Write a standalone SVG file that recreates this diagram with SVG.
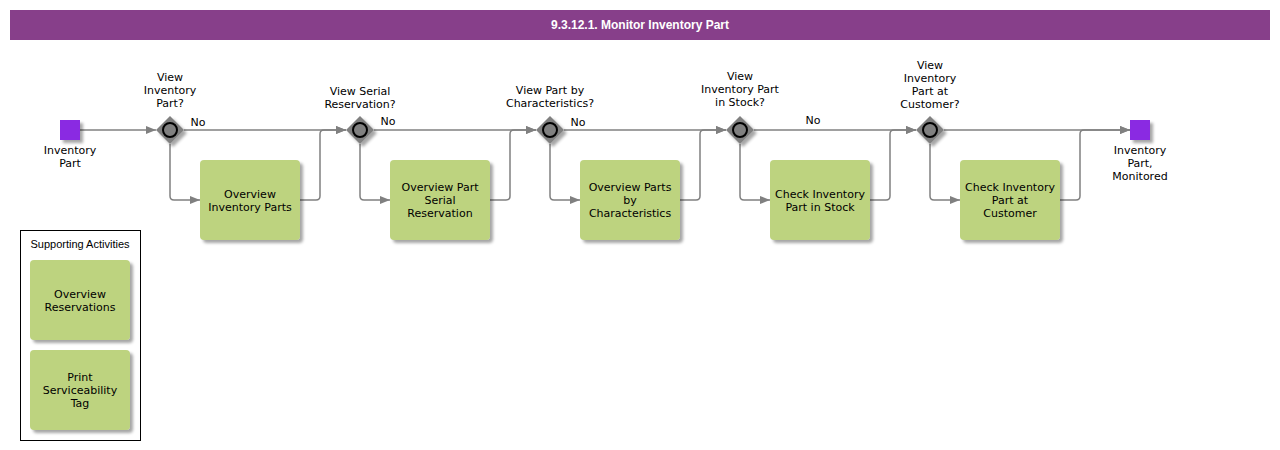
<svg xmlns="http://www.w3.org/2000/svg" width="1280" height="450" viewBox="0 0 1280 450">
<style>
.t{font-family:"DejaVu Sans",Verdana,sans-serif;font-size:11px;fill:#000;text-anchor:middle}
.task{fill:#BDD37F}
.gw{fill:#808080}
.ev{fill:#8A2BE2}
.c{fill:none;stroke:#808080;stroke-width:1.5}
</style>
<defs>
<filter id="sh" x="-20%" y="-20%" width="150%" height="150%">
<feDropShadow dx="3" dy="3" stdDeviation="1.5" flood-color="#000" flood-opacity="0.35"/>
</filter>
<marker id="ar" markerWidth="10" markerHeight="8" refX="10" refY="4" orient="auto" markerUnits="userSpaceOnUse">
<path d="M0,0 L10,4 L0,8 z" fill="#808080"/>
</marker>
<g id="gwshape">
<polygon points="0,-14 14,0 0,14 -14,0" class="gw" filter="url(#sh)"/>
<circle r="7" fill="#808080" stroke="#000" stroke-width="2"/>
</g>
</defs>
<rect width="1280" height="450" fill="#fff"/>
<g id="title">
<rect x="10" y="10" width="1260" height="30" fill="#873F8A"/>
<text x="640" y="29" style="font-family:'Liberation Sans',Arial,sans-serif;font-size:12px;font-weight:bold;fill:#fff;text-anchor:middle">9.3.12.1. Monitor Inventory Part</text>
</g>
<g id="connectors">
<path class="c" d="M80,130 H156" marker-end="url(#ar)"/>
<path class="c" d="M184,130 H346" marker-end="url(#ar)"/>
<path class="c" d="M170,144 V196 Q170,200 174,200 H200" marker-end="url(#ar)"/>
<path class="c" d="M300,200 H316 Q320,200 320,196 V134 Q320,130 324,130 H346" marker-end="url(#ar)"/>
<path class="c" d="M374,130 H536" marker-end="url(#ar)"/>
<path class="c" d="M360,144 V196 Q360,200 364,200 H390" marker-end="url(#ar)"/>
<path class="c" d="M490,200 H506 Q510,200 510,196 V134 Q510,130 514,130 H536" marker-end="url(#ar)"/>
<path class="c" d="M564,130 H726" marker-end="url(#ar)"/>
<path class="c" d="M550,144 V196 Q550,200 554,200 H580" marker-end="url(#ar)"/>
<path class="c" d="M680,200 H696 Q700,200 700,196 V134 Q700,130 704,130 H726" marker-end="url(#ar)"/>
<path class="c" d="M754,130 H916" marker-end="url(#ar)"/>
<path class="c" d="M740,144 V196 Q740,200 744,200 H770" marker-end="url(#ar)"/>
<path class="c" d="M870,200 H886 Q890,200 890,196 V134 Q890,130 894,130 H916" marker-end="url(#ar)"/>
<path class="c" d="M944,130 H1130" marker-end="url(#ar)"/>
<path class="c" d="M930,144 V196 Q930,200 934,200 H960" marker-end="url(#ar)"/>
<path class="c" d="M1060,200 H1076 Q1080,200 1080,196 V134 Q1080,130 1084,130 H1130" marker-end="url(#ar)"/>
<text class="t" x="198" y="126">No</text>
<text class="t" x="388" y="125">No</text>
<text class="t" x="578" y="126">No</text>
<text class="t" x="813" y="124">No</text>
</g>
<g id="start">
<rect x="60" y="120" width="20" height="20" class="ev" filter="url(#sh)"/>
<text class="t" x="70" y="154">Inventory</text>
<text class="t" x="70" y="167">Part</text>
</g>
<g id="gw1">
<use href="#gwshape" x="170" y="130"/>
<text class="t" x="170" y="81">View</text>
<text class="t" x="170" y="94">Inventory</text>
<text class="t" x="170" y="107">Part?</text>
</g>
<g id="task1">
<rect x="200" y="160" width="100" height="80" rx="4" class="task" filter="url(#sh)"/>
<text class="t" x="250" y="198">Overview</text>
<text class="t" x="250" y="211">Inventory Parts</text>
</g>
<g id="gw2">
<use href="#gwshape" x="360" y="130"/>
<text class="t" x="360" y="95">View Serial</text>
<text class="t" x="360" y="108">Reservation?</text>
</g>
<g id="task2">
<rect x="390" y="160" width="100" height="80" rx="4" class="task" filter="url(#sh)"/>
<text class="t" x="440" y="191">Overview Part</text>
<text class="t" x="440" y="204">Serial</text>
<text class="t" x="440" y="217">Reservation</text>
</g>
<g id="gw3">
<use href="#gwshape" x="550" y="130"/>
<text class="t" x="550" y="94">View Part by</text>
<text class="t" x="550" y="107">Characteristics?</text>
</g>
<g id="task3">
<rect x="580" y="160" width="100" height="80" rx="4" class="task" filter="url(#sh)"/>
<text class="t" x="630" y="191">Overview Parts</text>
<text class="t" x="630" y="204">by</text>
<text class="t" x="630" y="217">Characteristics</text>
</g>
<g id="gw4">
<use href="#gwshape" x="740" y="130"/>
<text class="t" x="740" y="80">View</text>
<text class="t" x="740" y="93">Inventory Part</text>
<text class="t" x="740" y="106">in Stock?</text>
</g>
<g id="task4">
<rect x="770" y="160" width="100" height="80" rx="4" class="task" filter="url(#sh)"/>
<text class="t" x="820" y="198">Check Inventory</text>
<text class="t" x="820" y="211">Part in Stock</text>
</g>
<g id="gw5">
<use href="#gwshape" x="930" y="130"/>
<text class="t" x="930" y="69">View</text>
<text class="t" x="930" y="82">Inventory</text>
<text class="t" x="930" y="95">Part at</text>
<text class="t" x="930" y="108">Customer?</text>
</g>
<g id="task5">
<rect x="960" y="160" width="100" height="80" rx="4" class="task" filter="url(#sh)"/>
<text class="t" x="1010" y="191">Check Inventory</text>
<text class="t" x="1010" y="204">Part at</text>
<text class="t" x="1010" y="217">Customer</text>
</g>
<g id="end">
<rect x="1130" y="120" width="20" height="20" class="ev" filter="url(#sh)"/>
<text class="t" x="1140" y="154">Inventory</text>
<text class="t" x="1140" y="167">Part,</text>
<text class="t" x="1140" y="180">Monitored</text>
</g>
<g id="supporting">
<rect x="20.5" y="230.5" width="120" height="210" fill="#fff" stroke="#000" stroke-width="1"/>
<text x="80" y="248" style="font-family:'Liberation Sans',Arial,sans-serif;font-size:11px;text-anchor:middle">Supporting Activities</text>
</g>
<g id="sa1">
<rect x="30" y="260" width="100" height="80" rx="4" class="task" filter="url(#sh)"/>
<text class="t" x="80" y="298">Overview</text>
<text class="t" x="80" y="311">Reservations</text>
</g>
<g id="sa2">
<rect x="30" y="350" width="100" height="80" rx="4" class="task" filter="url(#sh)"/>
<text class="t" x="80" y="381">Print</text>
<text class="t" x="80" y="394">Serviceability</text>
<text class="t" x="80" y="407">Tag</text>
</g>
</svg>
